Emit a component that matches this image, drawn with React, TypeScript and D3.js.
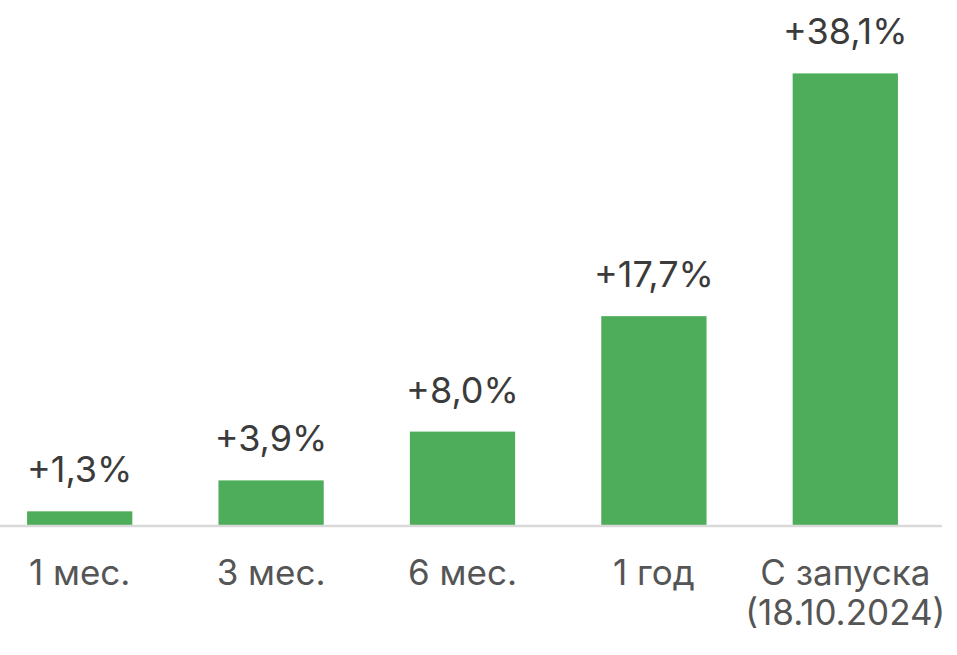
import React from "react";
import * as d3 from "d3";

// Chart data
const categories = ["1 мес.", "3 мес.", "6 мес.", "1 год", "С запуска\n(18.10.2024)"];
const returns = [1.3, 3.9, 8.0, 17.7, 38.1];
const valueLabels = ["+1,3%", "+3,9%", "+8,0%", "+17,7%", "+38,1%"];

const WIDTH = 957;
const HEIGHT = 655;
const FONT = "Inter, 'Noto Sans', sans-serif";

export default function App() {
  const x = d3
    .scaleBand<string>()
    .domain(categories)
    .range([-16, 941])
    .paddingInner(0.45)
    .paddingOuter(0.225);

  const y = d3.scaleLinear().domain([0, 38.1]).range([526.8, 73.4]);

  return (
    <svg
      width={WIDTH}
      height={HEIGHT}
      style={{ position: "absolute", left: 0, top: 0, background: "#fff" }}
      fontFamily={FONT}
    >
      {categories.map((c, i) => {
        const bx = x(c) || 0;
        const cx = bx + x.bandwidth() / 2;
        return (
          <g key={c}>
            <rect
              x={bx}
              y={y(returns[i])}
              width={x.bandwidth()}
              height={y(0) - y(returns[i])}
              fill="#4dad5b"
            />
            <text
              x={cx}
              y={y(returns[i]) - 29}
              textAnchor="middle"
              fontSize={36}
              fill="#3b3b3b"
            >
              {valueLabels[i]}
            </text>
            <text x={cx} y={585} textAnchor="middle" fontSize={35} fill="#555555">
              {c.split("\n").map((line, j) => (
                <tspan key={j} x={cx} dy={j === 0 ? 0 : 40}>
                  {line}
                </tspan>
              ))}
            </text>
          </g>
        );
      })}
      {/* baseline */}
      <line x1={0} x2={942} y1={526} y2={526} stroke="#d9d9d9" strokeWidth={2.5} />
    </svg>
  );
}
